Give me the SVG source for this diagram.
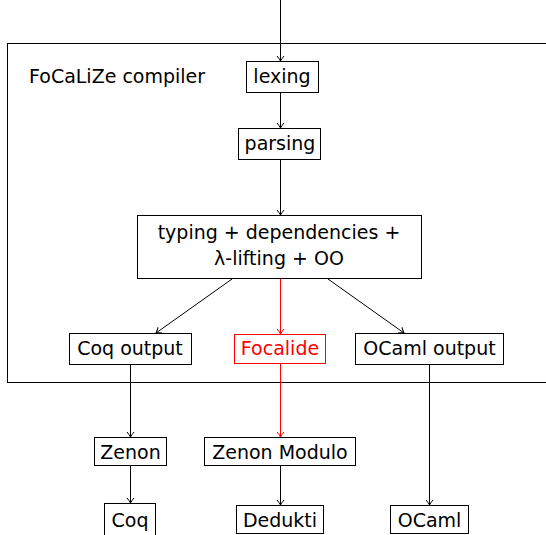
<svg xmlns="http://www.w3.org/2000/svg" width="546" height="535" viewBox="0 0 546 535">
<style>
text{font-family:"DejaVu Sans","Liberation Sans",sans-serif;font-size:19px;fill:#000;text-anchor:middle}
.box{fill:#fff;stroke:#000;stroke-width:1}
.red rect{stroke:#ff0000}
.red text{fill:#ff0000}
.e{stroke:#000;stroke-width:1;fill:none;marker-end:url(#ah)}
.er{stroke:#ff0000;stroke-width:1;fill:none;marker-end:url(#ahr)}
</style>
<defs>
<marker id="ah" markerWidth="10" markerHeight="10" refX="7" refY="5" orient="auto" markerUnits="userSpaceOnUse">
<path d="M2,1.5 Q5,4 7,5 Q5,6 2,8.5" fill="none" stroke="#000" stroke-width="1"/>
</marker>
<marker id="ahr" markerWidth="10" markerHeight="10" refX="7" refY="5" orient="auto" markerUnits="userSpaceOnUse">
<path d="M2,1.5 Q5,4 7,5 Q5,6 2,8.5" fill="none" stroke="#ff0000" stroke-width="1"/>
</marker>
</defs>
<g id="compiler">
<rect x="7.5" y="43.5" width="560" height="339" fill="none" stroke="#000" stroke-width="1"/>
<text x="29" y="83" style="text-anchor:start">FoCaLiZe compiler</text>
</g>
<g id="connectors">
<line class="e" x1="280.5" y1="0" x2="280.5" y2="61"/>
<line class="e" x1="280.5" y1="93" x2="280.5" y2="128"/>
<line class="e" x1="280.5" y1="160" x2="280.5" y2="215"/>
<line class="e" x1="232" y1="279" x2="156" y2="333"/>
<line class="er" x1="280.5" y1="279" x2="280.5" y2="334"/>
<line class="e" x1="328" y1="279" x2="404" y2="333"/>
<line class="e" x1="130.5" y1="365" x2="130.5" y2="437"/>
<line class="er" x1="280.5" y1="364" x2="280.5" y2="437"/>
<line class="e" x1="429.5" y1="365" x2="429.5" y2="505"/>
<line class="e" x1="130.5" y1="466" x2="130.5" y2="503"/>
<line class="e" x1="280.5" y1="466" x2="280.5" y2="505"/>
</g>
<g id="lexing"><rect class="box" x="246.5" y="61.5" width="72" height="31"/><text x="282" y="83">lexing</text></g>
<g id="parsing"><rect class="box" x="238.5" y="128.5" width="82" height="31"/><text x="280" y="150">parsing</text></g>
<g id="typing"><rect class="box" x="137.5" y="215.5" width="284" height="63"/><text x="279" y="239">typing + dependencies +</text><text x="279" y="265">λ-lifting + OO</text></g>
<g id="coq-output"><rect class="box" x="69.5" y="333.5" width="122" height="31"/><text x="130" y="355">Coq output</text></g>
<g id="focalide" class="red"><rect class="box" x="234.5" y="334.5" width="91" height="29"/><text x="280" y="355">Focalide</text></g>
<g id="ocaml-output"><rect class="box" x="355.5" y="333.5" width="148" height="31"/><text x="429.5" y="355">OCaml output</text></g>
<g id="zenon"><rect class="box" x="94.5" y="437.5" width="72" height="28"/><text x="130.5" y="459">Zenon</text></g>
<g id="zenon-modulo"><rect class="box" x="204.5" y="437.5" width="151" height="28"/><text x="280" y="459">Zenon Modulo</text></g>
<g id="coq"><rect class="box" x="104.5" y="503.5" width="51" height="36"/><text x="130" y="527">Coq</text></g>
<g id="dedukti"><rect class="box" x="236.5" y="505.5" width="87" height="28"/><text x="280" y="527">Dedukti</text></g>
<g id="ocaml"><rect class="box" x="390.5" y="505.5" width="78" height="28"/><text x="429.5" y="527">OCaml</text></g>
</svg>
